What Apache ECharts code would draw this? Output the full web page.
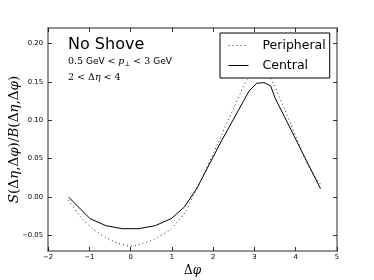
<!DOCTYPE html>
<html><head><meta charset="utf-8">
<script src="https://cdn.jsdelivr.net/npm/echarts@6/dist/echarts.min.js"></script>
<style>html,body{margin:0;padding:0;background:#fff}#c{width:374px;height:280px}</style>
</head><body><div id="c"></div>
<script>
const peripheralX = [-1.5, -1.22, -0.9, -0.58, -0.3, 0, 0.3, 0.56, 0.96, 1.36, 1.49, 1.69, 2.13, 2.49, 2.82, 3.14, 3.38, 3.67, 4.0, 4.31, 4.61];
const peripheralY = [-0.004, -0.025, -0.042, -0.053, -0.060, -0.064, -0.060, -0.055, -0.042, -0.017, -0.001, 0.020, 0.072, 0.115, 0.152, 0.167, 0.156, 0.122, 0.079, 0.040, 0.016];
const centralX = [-1.5, -0.98, -0.6, -0.2, 0.2, 0.6, 0.98, 1.3, 1.6, 2.2, 2.87, 3.05, 3.23, 3.39, 3.5, 4.6];
const centralY = [0.000, -0.028, -0.037, -0.041, -0.041, -0.037, -0.028, -0.013, 0.011, 0.073, 0.138, 0.148, 0.149, 0.145, 0.129, 0.011];
const xTicks = [-2, -1, 0, 1, 2, 3, 4, 5];
const yTicks = [-0.05, 0.00, 0.05, 0.10, 0.15, 0.20];
const seriesNames = ['Peripheral', 'Central'];

const pairs = (xs, ys) => xs.map((x, i) => [x, ys[i]]);
const frameColor = '#707070';
const tickLabel = {fontSize: 6.8, fontFamily: 'DejaVu Sans', color: '#000'};
const baseX = {type: 'value', min: xTicks[0], max: xTicks[xTicks.length - 1], interval: 1,
  splitLine: {show: false},
  axisLine: {show: true, onZero: false, lineStyle: {color: frameColor, width: 1.5}},
  axisTick: {show: true, inside: true, length: 4, lineStyle: {color: '#000', width: 0.8}}};
const baseY = {type: 'value', min: -0.07, max: 0.22,
  splitLine: {show: false},
  axisLine: {show: true, onZero: false, lineStyle: {color: frameColor, width: 1.5}},
  axisTick: {show: true, inside: true, length: 4, customValues: yTicks, lineStyle: {color: '#000', width: 0.8}}};

const chart = echarts.init(document.getElementById('c'), null, {renderer: 'canvas'});
chart.setOption({
  animation: false,
  backgroundColor: '#fff',
  grid: {left: 48, top: 28, right: 37, bottom: 29, containLabel: false, outerBoundsMode: 'none'},
  xAxis: [
    Object.assign({}, baseX, {position: 'bottom', nameMoveOverlap: false,
      axisLabel: Object.assign({margin: 3, formatter: v => (v < 0 ? '\u2212' + (-v) : '' + v)}, tickLabel),
      name: '\u0394{i|\u03c6}', nameLocation: 'middle', nameGap: 14,
      nameTextStyle: {fontSize: 12, fontFamily: 'DejaVu Serif', color: '#000', padding: [0, 0, 0, 0],
        rich: {i: {fontSize: 12, fontFamily: 'DejaVu Serif', fontStyle: 'italic', color: '#000'}}}}),
    Object.assign({}, baseX, {position: 'top', axisLabel: {show: false}})
  ],
  yAxis: [
    Object.assign({}, baseY, {position: 'left', nameMoveOverlap: false,
      axisLabel: Object.assign({margin: 5, customValues: yTicks,
        formatter: v => (v < 0 ? '\u2212' + (-v).toFixed(2) : v.toFixed(2))}, tickLabel),
      name: '{i|S}(\u0394{i|\u03b7},\u0394{i|\u03c6})/{i|B}(\u0394{i|\u03b7},\u0394{i|\u03c6})',
      nameLocation: 'middle', nameGap: 27, nameRotate: 90,
      nameTextStyle: {fontSize: 13.5, fontFamily: 'DejaVu Serif', color: '#000',
        rich: {i: {fontSize: 13.5, fontFamily: 'DejaVu Serif', fontStyle: 'italic', color: '#000'}}}}),
    Object.assign({}, baseY, {position: 'right', axisLabel: {show: false}})
  ],
  legend: {
    orient: 'vertical', left: 220, top: 33,
    padding: [6, 4, 6, 8], itemWidth: 20, itemHeight: 12, itemGap: 7,
    borderColor: '#000', borderWidth: 1, borderRadius: 0, backgroundColor: '#fff',
    itemStyle: {opacity: 0},
    lineStyle: {width: 1},
    textStyle: {fontSize: 12.5, fontFamily: 'DejaVu Sans', color: '#000', padding: [0, 0, 0, 9], lineHeight: 12},
    data: seriesNames
  },
  graphic: [
    {type: 'text', left: 68, top: 37, z: 10,
      style: {text: 'No Shove', font: '16px "DejaVu Sans"', fill: '#000'}},
    {type: 'text', left: 68, top: 57, z: 10,
      style: {text: '{s|0.5} GeV {s|<} {i|p}{sub|\u22a5} {s|< 3} GeV',
        font: '9px "DejaVu Sans"', fill: '#000',
        rich: {s: {font: '9.5px "DejaVu Serif"', fill: '#000'},
               i: {font: 'italic 9.5px "DejaVu Serif"', fill: '#000'},
               sub: {font: '6.5px "DejaVu Serif"', fill: '#000', verticalAlign: 'bottom', padding: [4, 0, 0, 0]}}}},
    {type: 'text', left: 68, top: 73, z: 10,
      style: {text: '2 < \u0394{i|\u03b7} < 4', font: '9.5px "DejaVu Serif"', fill: '#000',
        rich: {i: {font: 'italic 9.5px "DejaVu Serif"', fill: '#000'}}}}
  ],
  series: [
    {name: seriesNames[0], type: 'line', data: pairs(peripheralX, peripheralY), symbol: 'none', showSymbol: false,
      smooth: 0.2, lineStyle: {color: '#222', width: 1, type: [1, 3]}, itemStyle: {color: '#000'}},
    {name: seriesNames[1], type: 'line', data: pairs(centralX, centralY), symbol: 'none', showSymbol: false,
      lineStyle: {color: '#000', width: 1, type: 'solid'}, itemStyle: {color: '#000'}}
  ]
});
</script>
</body></html>
